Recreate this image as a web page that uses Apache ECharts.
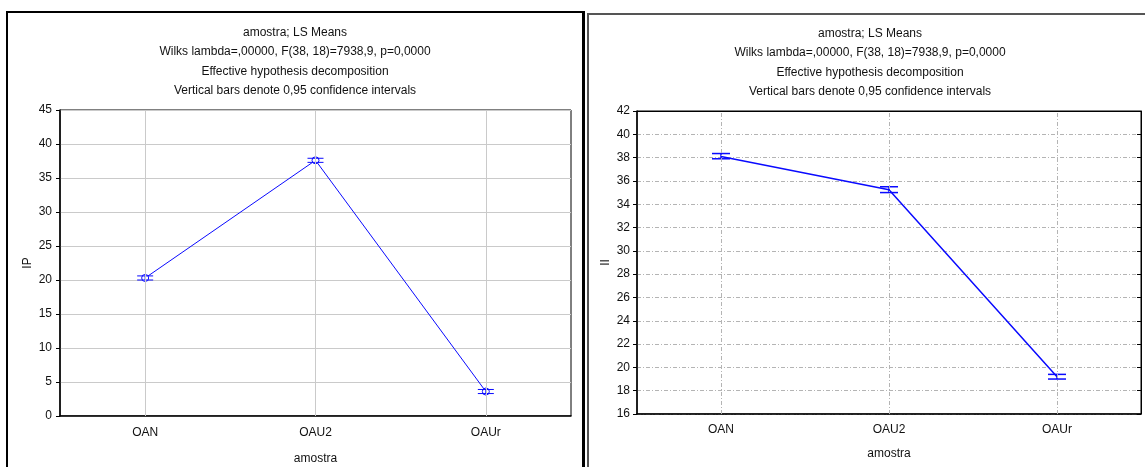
<!DOCTYPE html>
<html>
<head>
<meta charset="utf-8">
<script src="https://cdn.jsdelivr.net/npm/echarts@6/dist/echarts.min.js"></script>
<style>
  html, body { margin: 0; padding: 0; background: #fff; }
  #chart { width: 1145px; height: 467px; }
</style>
</head>
<body>
<div id="chart"></div>
<script>
// data
const categories = ['OAN', 'OAU2', 'OAUr'];
const ipMean = [20.3, 37.6, 3.6];
const ipLow = [20.0, 37.3, 3.3];
const ipHigh = [20.6, 37.9, 3.9];
const iiMean = [38.1, 35.25, 19.2];
const iiLow = [37.9, 35.0, 19.0];
const iiHigh = [38.35, 35.5, 19.4];
const titleLines = [
  'amostra; LS Means',
  'Wilks lambda=,00000, F(38, 18)=7938,9, p=0,0000',
  'Effective hypothesis decomposition',
  'Vertical bars denote 0,95 confidence intervals'
];

const FONT = '"Liberation Sans", Arial, sans-serif';
const BLUE = '#0a0aff';

const chart = echarts.init(document.getElementById('chart'), null, { renderer: 'canvas' });

// error bar with caps, drawn through the axes
function errorBars(capHalf, width) {
  return function (params, api) {
    const x = api.value(0);
    const lo = api.coord([x, api.value(1)]);
    const hi = api.coord([x, api.value(2)]);
    const style = { stroke: BLUE, lineWidth: width };
    return {
      type: 'group',
      children: [
        { type: 'line', shape: { x1: lo[0], y1: lo[1], x2: hi[0], y2: hi[1] }, style: style },
        { type: 'line', shape: { x1: lo[0] - capHalf, y1: lo[1], x2: lo[0] + capHalf, y2: lo[1] }, style: style },
        { type: 'line', shape: { x1: hi[0] - capHalf, y1: hi[1], x2: hi[0] + capHalf, y2: hi[1] }, style: style }
      ]
    };
  };
}

function titleFor(x, top) {
  return {
    text: titleLines.join('\n'),
    left: x,
    top: top,
    textAlign: 'center',
    padding: 0,
    textStyle: { fontFamily: FONT, fontSize: 12, fontWeight: 'normal', color: '#111', lineHeight: 19.3 }
  };
}

const axisText = { fontFamily: FONT, fontSize: 12, color: '#111' };

const option = {
  animation: false,
  backgroundColor: '#fff',
  title: [titleFor(295, 23), titleFor(870, 24)],
  graphic: [
    { type: 'rect', shape: { x: 7, y: 12, width: 576, height: 470 }, style: { fill: 'none', stroke: '#000', lineWidth: 2 }, silent: true },
    { type: 'rect', shape: { x: 582, y: 11, width: 3, height: 470 }, style: { fill: '#000' }, silent: true },
    { type: 'rect', shape: { x: 588, y: 14, width: 570, height: 470 }, style: { fill: 'none', stroke: '#555', lineWidth: 2 }, silent: true }
  ],
  grid: [
    { left: 60, top: 110, right: 574, bottom: 51, outerBoundsMode: 'none', containLabel: false,
      show: true, borderColor: '#000', borderWidth: 1, backgroundColor: 'transparent' },
    { left: 637, top: 111, right: 4, bottom: 53, outerBoundsMode: 'none', containLabel: false,
      show: true, borderColor: '#000', borderWidth: 1, backgroundColor: 'transparent' }
  ],
  xAxis: [
    {
      gridIndex: 0, type: 'category', data: categories, boundaryGap: true,
      name: 'amostra', nameLocation: 'middle', nameGap: 37,
      nameTextStyle: axisText,
      axisLine: { lineStyle: { color: '#000', width: 1.5 } },
      axisTick: { alignWithLabel: true, inside: true, length: 4, lineStyle: { color: '#000' } },
      axisLabel: Object.assign({ margin: 11 }, axisText),
      splitLine: { show: false }
    },
    {
      gridIndex: 1, type: 'category', data: categories, boundaryGap: true,
      name: 'amostra', nameLocation: 'middle', nameGap: 34,
      nameTextStyle: axisText,
      axisLine: { lineStyle: { color: '#000', width: 1.5 } },
      axisTick: { alignWithLabel: true, inside: true, length: 4, lineStyle: { color: '#000' } },
      axisLabel: Object.assign({ margin: 10 }, axisText),
      splitLine: { show: false }
    },
    {
      gridIndex: 1, type: 'category', data: categories, boundaryGap: true, position: 'top',
      axisLine: { lineStyle: { color: '#000' } },
      axisTick: { alignWithLabel: true, inside: true, length: 4, lineStyle: { color: '#000' } },
      axisLabel: { show: false },
      splitLine: { show: false }
    }
  ],
  yAxis: [
    {
      gridIndex: 0, type: 'value', min: 0, max: 45, interval: 5,
      name: 'IP', nameLocation: 'middle', nameGap: 26, nameRotate: 90,
      nameTextStyle: axisText,
      axisLine: { show: true, lineStyle: { color: '#000', width: 1.5 } },
      axisTick: { show: true, length: 4, lineStyle: { color: '#000' } },
      axisLabel: Object.assign({ margin: 8 }, axisText),
      splitLine: { show: true, lineStyle: { color: '#cacaca', width: 1, type: 'solid' } }
    },
    {
      gridIndex: 1, type: 'value', min: 16, max: 42, interval: 2,
      name: 'II', nameLocation: 'middle', nameGap: 25, nameRotate: 90,
      nameTextStyle: axisText,
      axisLine: { show: true, lineStyle: { color: '#000', width: 1.5 } },
      axisTick: { show: true, length: 4, lineStyle: { color: '#000' } },
      axisLabel: Object.assign({ margin: 7 }, axisText),
      splitLine: { show: true, lineStyle: { color: '#b4b4b4', width: 1, type: [4, 2, 1, 2] } }
    },
    {
      gridIndex: 1, type: 'value', min: 16, max: 42, interval: 2, position: 'right',
      axisLine: { show: true, lineStyle: { color: '#000' } },
      axisTick: { show: true, inside: true, length: 4, lineStyle: { color: '#000' } },
      axisLabel: { show: false },
      splitLine: { show: false }
    }
  ],
  series: [
    {
      // vertical grid lines at the category centres (left)
      type: 'line', xAxisIndex: 0, yAxisIndex: 0, data: [], z: 1, silent: true,
      markLine: {
        silent: true, symbol: 'none', label: { show: false },
        lineStyle: { color: '#cacaca', width: 1, type: 'solid' },
        data: categories.map(c => ({ xAxis: c }))
      }
    },
    {
      // vertical grid lines (right)
      type: 'line', xAxisIndex: 1, yAxisIndex: 1, data: [], z: 1, silent: true,
      markLine: {
        silent: true, symbol: 'none', label: { show: false },
        lineStyle: { color: '#b4b4b4', width: 1, type: [4, 2, 1, 2] },
        data: categories.map(c => ({ xAxis: c }))
      }
    },
    {
      name: 'IP', type: 'line', xAxisIndex: 0, yAxisIndex: 0, data: ipMean, z: 3,
      symbol: 'circle', symbolSize: 7,
      itemStyle: { color: '#fff', borderColor: BLUE, borderWidth: 1 },
      lineStyle: { color: BLUE, width: 1 }
    },
    {
      type: 'custom', xAxisIndex: 0, yAxisIndex: 0, z: 4,
      renderItem: errorBars(8, 1),
      encode: { x: 0, y: [1, 2] },
      data: categories.map((c, i) => [i, ipLow[i], ipHigh[i]])
    },
    {
      name: 'II', type: 'line', xAxisIndex: 1, yAxisIndex: 1, data: iiMean, z: 3,
      symbol: 'none',
      lineStyle: { color: BLUE, width: 1.5 }
    },
    {
      type: 'custom', xAxisIndex: 1, yAxisIndex: 1, z: 4,
      renderItem: errorBars(9, 1.5),
      encode: { x: 0, y: [1, 2] },
      data: categories.map((c, i) => [i, iiLow[i], iiHigh[i]])
    }
  ]
};

chart.setOption(option);
</script>
</body>
</html>
